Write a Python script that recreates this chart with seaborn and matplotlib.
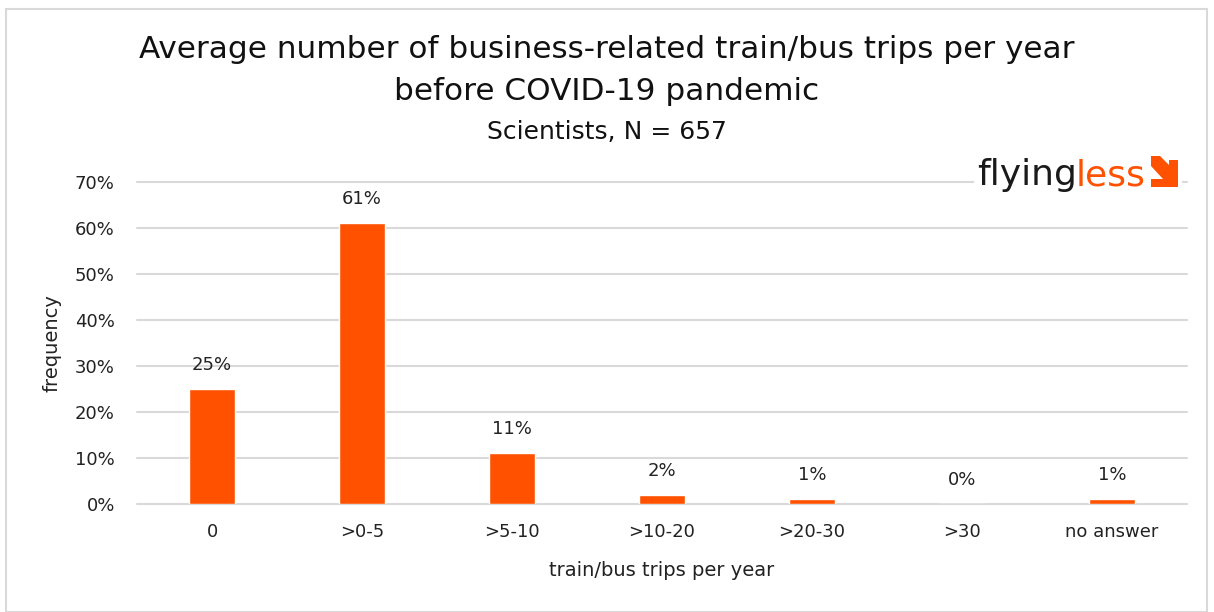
import matplotlib
matplotlib.use("Agg")
import matplotlib.pyplot as plt
import seaborn as sns
import pandas as pd
from matplotlib.patches import Rectangle, Polygon

categories = ["0", ">0-5", ">5-10", ">10-20", ">20-30", ">30", "no answer"]
values = [25, 61, 11, 2, 1, 0, 1]
yticks = [0, 10, 20, 30, 40, 50, 60, 70]

sns.set_theme(style="white")
plt.rcParams['font.family'] = ['DejaVu Sans']

df = pd.DataFrame({"cat": categories, "val": values})

W, H = 1214, 612
fig = plt.figure(figsize=(W / 100, H / 100), dpi=100)
ax = fig.add_axes([137/W, 1-504/H, 1050/W, 322/H])

sns.barplot(data=df, x="cat", y="val", color="#FF5100", width=0.31,
            saturation=1, ax=ax, zorder=3)

ax.set_ylim(0, 70)
ax.set_xlim(-0.5, len(categories) - 0.5)
ax.set_yticks(yticks)
ax.set_yticklabels([f"{t}%" for t in yticks], fontsize=13, color="#222222")
ax.tick_params(axis="x", labelsize=13, colors="#222222", pad=14, length=0)
ax.tick_params(axis="y", length=0, pad=16)
ax.grid(axis="y", color="#d9d9d9", linewidth=1.5, zorder=0)
for gl in ax.get_ygridlines():
    gl.set_clip_on(False)
ax.set_axisbelow(True)
for s in ax.spines.values():
    s.set_visible(False)
ax.set_xlabel("train/bus trips per year", fontsize=14, color="#222222", labelpad=14)
ax.set_ylabel("frequency", fontsize=14, color="#222222", labelpad=10)

for i, v in enumerate(values):
    ax.text(i, v + 3.3, f"{v}%", ha="center", va="bottom", fontsize=13, color="#222222")

fig.text(0.5, 1-50/H, "Average number of business-related train/bus trips per year",
         ha="center", va="center", fontsize=22.4, color="#111111")
fig.text(0.5, 1-92/H, "before COVID-19 pandemic", ha="center", va="center",
         fontsize=22.4, color="#111111")
fig.text(0.5, 1-132/H, "Scientists, N = 657", ha="center", va="center",
         fontsize=18, color="#111111")

# logo
fig.patches.append(Rectangle((974/W, 1-200/H), 208/W, 50/H,
                             transform=fig.transFigure, facecolor="white",
                             edgecolor="none", zorder=5))
fig.canvas.draw()
t1 = fig.text(977/W, 1-175/H, "flying", ha="left", va="center",
              fontsize=26, color="#1a1a1a", zorder=6)
r = fig.canvas.get_renderer()
bb = t1.get_window_extent(renderer=r)
t2 = fig.text((bb.x1 - 1) / fig.bbox.width, 1-175/H, "less", ha="left", va="center",
              fontsize=26, color="#FF5100", zorder=6)
pts = [(1151, 156), (1160, 156), (1169, 165), (1169, 160), (1178, 160),
       (1178, 187), (1151, 187), (1151, 179), (1163, 179), (1151, 166)]
arrow = Polygon([(x / W, 1 - y / H) for x, y in pts], closed=True,
                transform=fig.transFigure, facecolor="#FF5100",
                edgecolor="none", zorder=6)
fig.patches.append(arrow)

# figure border
fig.patches.append(Rectangle((6/W, 0), 1201/W, 1-9/H,
                             transform=fig.transFigure, facecolor="none",
                             edgecolor="#d9d9d9", linewidth=1.5, zorder=0))

fig.savefig("out.png", dpi=100, facecolor="white")
